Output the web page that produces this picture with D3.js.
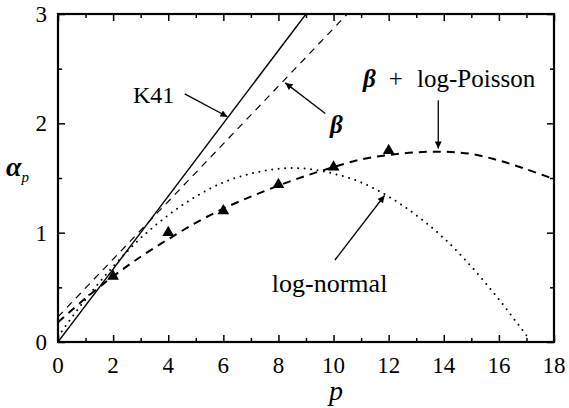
<!DOCTYPE html>
<html>
<head>
<meta charset="utf-8">
<script src="https://cdn.jsdelivr.net/npm/d3@7"></script>
<style>
body { margin: 0; background: #fff; }
svg { display: block; }
text { font-family: "Liberation Serif", "DejaVu Serif", serif; fill: #000; }
</style>
</head>
<body>
<script>
//values
var xTicks = [0, 2, 4, 6, 8, 10, 12, 14, 16, 18];
var yTicks = [0, 1, 2, 3];

//K41 and beta straight lines (end points)
var k41P = [0, 9];
var k41A = [0, 3];
var betaP = [0, 10.5];
var betaA = [0.23, 3];

//beta + log-Poisson (bold dashed)
var lpP = [0, 1, 2, 3, 4, 5, 6, 7, 8, 9, 10, 11, 12, 13, 14, 15, 16, 17, 18];
var lpA = [0.18, 0.40, 0.60, 0.78, 0.94, 1.09, 1.22, 1.33, 1.43, 1.52, 1.60, 1.67, 1.71, 1.735, 1.74, 1.72, 1.66, 1.58, 1.49];

//log-normal (dotted)
var lnP = [0, 1, 2, 3, 4, 5, 6, 7, 8, 9, 10, 11, 12, 13, 14, 15, 16, 17];
var lnA = [0.05, 0.39, 0.69, 0.95, 1.16, 1.33, 1.46, 1.54, 1.585, 1.585, 1.54, 1.46, 1.33, 1.16, 0.95, 0.69, 0.39, 0.06];

//measured points (triangles)
var ptP = [2, 4, 6, 8, 10, 12];
var ptA = [0.60, 1.00, 1.20, 1.44, 1.60, 1.75];

var width = 569, height = 408;
var mLeft = 58, mRight = 554, mTop = 14, mBottom = 342;

var svg = d3.select("body").append("svg")
	.attr("width", width)
	.attr("height", height);

var x = d3.scaleLinear().domain([0, 18]).range([mLeft, mRight]);
var y = d3.scaleLinear().domain([0, 3]).range([mBottom, mTop]);

//arrow head
svg.append("defs").append("marker")
	.attr("id", "head")
	.attr("viewBox", "0 0 10 10")
	.attr("refX", 10)
	.attr("refY", 5)
	.attr("markerWidth", 9)
	.attr("markerHeight", 7)
	.attr("markerUnits", "userSpaceOnUse")
	.attr("orient", "auto")
	.append("path")
	.attr("d", "M0,0 L10,5 L0,10 z")
	.attr("fill", "#000");

var plot = svg.append("g");
plot.append("clipPath").attr("id", "clip")
	.append("rect")
	.attr("x", mLeft).attr("y", mTop)
	.attr("width", mRight - mLeft).attr("height", mBottom - mTop);

var line = d3.line()
	.x(function(d) { return x(d[0]); })
	.y(function(d) { return y(d[1]); });
var smooth = d3.line()
	.x(function(d) { return x(d[0]); })
	.y(function(d) { return y(d[1]); })
	.curve(d3.curveCatmullRom);

var curves = plot.append("g").attr("clip-path", "url(#clip)");

//K41
curves.append("path")
	.attr("d", line(d3.zip(k41P, k41A)))
	.attr("fill", "none").attr("stroke", "#000").attr("stroke-width", 1.4);

//beta
curves.append("path")
	.attr("d", line(d3.zip(betaP, betaA)))
	.attr("fill", "none").attr("stroke", "#000").attr("stroke-width", 1.2)
	.attr("stroke-dasharray", "7,6");

//log-normal
curves.append("path")
	.attr("d", smooth(d3.zip(lnP, lnA)))
	.attr("fill", "none").attr("stroke", "#000").attr("stroke-width", 2)
	.attr("stroke-linecap", "round")
	.attr("stroke-dasharray", "0,6.5");

//beta + log-Poisson
curves.append("path")
	.attr("d", smooth(d3.zip(lpP, lpA)))
	.attr("fill", "none").attr("stroke", "#000").attr("stroke-width", 2)
	.attr("stroke-dasharray", "8,6");

//triangles
plot.selectAll("path.pt")
	.data(d3.zip(ptP, ptA))
	.enter().append("path")
	.attr("class", "pt")
	.attr("transform", function(d) { return "translate(" + x(d[0]) + "," + y(d[1]) + ")"; })
	.attr("d", d3.symbol().type(d3.symbolTriangle).size(60))
	.attr("fill", "#000");

//axes with inward ticks on all four sides
function ticksOn(axis, scale, pos, major, minor) {
	var g = svg.append("g").attr("transform", pos);
	g.call(axis(scale).tickValues(minor).tickSize(-4).tickFormat(""));
	g.call(function(s) { s.select(".domain").remove(); });
	var g2 = svg.append("g").attr("transform", pos);
	g2.call(axis(scale).tickValues(major).tickSize(-7).tickFormat(""));
	g2.call(function(s) { s.select(".domain").remove(); });
	svg.selectAll(".tick line").attr("stroke-width", 1.5);
}
var xMinor = d3.range(1, 18, 2);
var yMinor = [0.5, 1.5, 2.5];
ticksOn(d3.axisBottom, x, "translate(0," + mBottom + ")", xTicks, xMinor);
ticksOn(d3.axisTop, x, "translate(0," + mTop + ")", xTicks, xMinor);
ticksOn(d3.axisLeft, y, "translate(" + mLeft + ",0)", yTicks, yMinor);
ticksOn(d3.axisRight, y, "translate(" + mRight + ",0)", yTicks, yMinor);

//frame
svg.append("rect")
	.attr("x", mLeft).attr("y", mTop)
	.attr("width", mRight - mLeft).attr("height", mBottom - mTop)
	.attr("fill", "none").attr("stroke", "#000").attr("stroke-width", 2.2);

//tick labels
svg.selectAll("text.xl").data(xTicks).enter().append("text")
	.attr("x", function(d) { return x(d); })
	.attr("y", 373)
	.attr("text-anchor", "middle")
	.attr("font-size", 23)
	.text(function(d) { return d; });
svg.selectAll("text.yl").data(yTicks).enter().append("text")
	.attr("x", 47)
	.attr("y", function(d) { return y(d); })
	.attr("dy", "0.35em")
	.attr("text-anchor", "end")
	.attr("font-size", 23)
	.text(function(d) { return d; });

//axis titles
svg.append("text")
	.attr("x", 336).attr("y", 400)
	.attr("text-anchor", "middle")
	.attr("font-size", 28)
	.attr("font-style", "italic")
	.text("p");
var ylab = svg.append("text")
	.attr("x", 6).attr("y", 176)
	.attr("font-size", 28)
	.attr("font-style", "italic")
	.attr("font-weight", "bold");
ylab.append("tspan").text("α");
ylab.append("tspan").attr("font-size", 15).attr("dy", 6).attr("font-weight", "normal").text("p");

//annotations
function arrow(p0, a0, p1, a1) {
	svg.append("line")
		.attr("x1", x(p0)).attr("y1", y(a0))
		.attr("x2", x(p1)).attr("y2", y(a1))
		.attr("stroke", "#000").attr("stroke-width", 1.3)
		.attr("marker-end", "url(#head)");
}
arrow(4.6, 2.27, 6.15, 2.06);
arrow(9.7, 2.09, 8.25, 2.37);
arrow(10.05, 0.75, 11.85, 1.34);
arrow(13.8, 2.21, 13.8, 1.77);

svg.append("text")
	.attr("x", x(2.72)).attr("y", y(2.19))
	.attr("font-size", 24)
	.text("K41");
svg.append("text")
	.attr("x", x(9.87)).attr("y", y(1.91))
	.attr("font-size", 25)
	.attr("font-style", "italic")
	.attr("font-weight", "bold")
	.text("β");
svg.append("text")
	.attr("x", x(11.07)).attr("y", y(2.33))
	.attr("font-size", 25)
	.attr("font-style", "italic")
	.attr("font-weight", "bold")
	.text("β");
svg.append("text")
	.attr("x", x(12.0)).attr("y", y(2.33))
	.attr("font-size", 25)
	.text("+");
svg.append("text")
	.attr("x", x(13.03)).attr("y", y(2.33))
	.attr("font-size", 25)
	.text("log-Poisson");
svg.append("text")
	.attr("x", x(7.76)).attr("y", y(0.457))
	.attr("font-size", 26)
	.text("log-normal");
</script>
</body>
</html>
